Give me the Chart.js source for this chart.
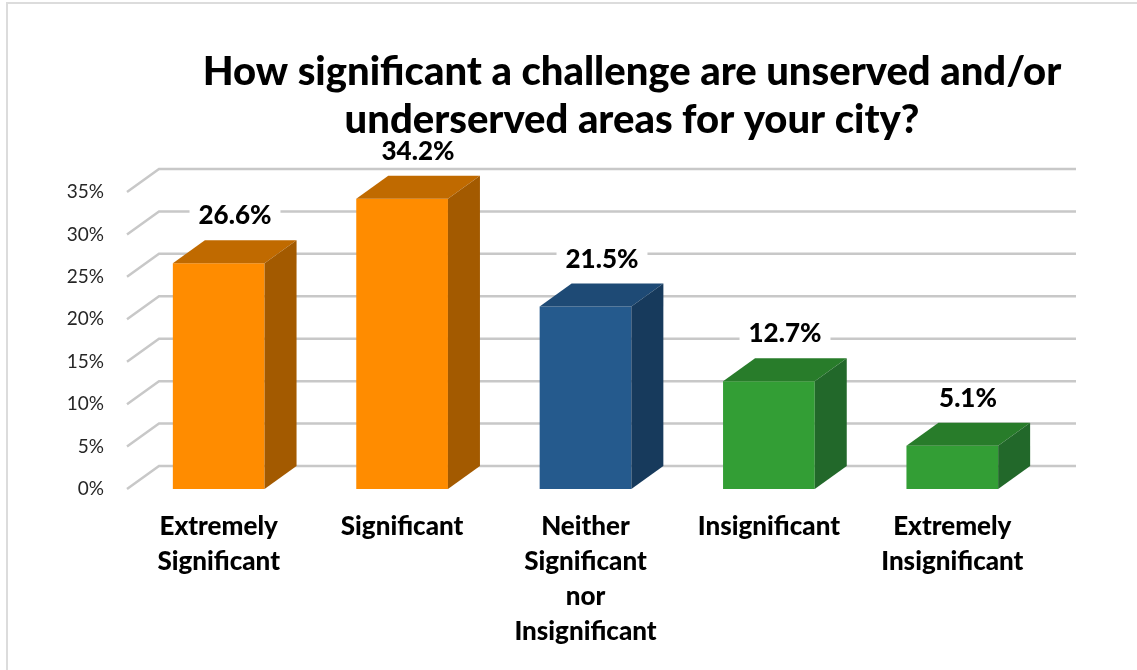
<!DOCTYPE html>
<html>
<head>
<meta charset="utf-8">
<script src="https://cdn.jsdelivr.net/npm/chart.js@4.4.1/dist/chart.umd.min.js"></script>
<style>
  body { margin: 0; background: #fff; }
  #wrap { position: relative; width: 1137px; height: 670px; overflow: hidden; }
  #frame { position: absolute; left: 6px; top: 2px; width: 1200px; height: 700px; border: 2px solid #dcdcdc; box-sizing: border-box; }
  canvas { position: absolute; left: 0; top: 0; }
</style>
</head>
<body>
<div id="wrap">
  <div id="frame"></div>
  <canvas id="chart" width="1137" height="670"></canvas>
</div>
<script>
const titleLines = ['How significant a challenge are unserved and/or', 'underserved areas for your city?'];
const categories = [
    ['Extremely', 'Significant'],
    ['Significant'],
    ['Neither', 'Significant', 'nor', 'Insignificant'],
    ['Insignificant'],
    ['Extremely', 'Insignificant']
];
const values = [26.6, 34.2, 21.5, 12.7, 5.1];
const yTicks = [0, 5, 10, 15, 20, 25, 30, 35];

const frontColors = ['#ff8c00', '#ff8c00', '#255a8d', '#339e35', '#339e35'];
const topColors = ['#c06a00', '#c06a00', '#1e4a75', '#287c2a', '#287c2a'];
const sideColors = ['#a35a00', '#a35a00', '#173a5c', '#22682a', '#22682a'];

// depth of the fake 3d
const DX = 32;
const DY = 23;
const FONT = 'Lato, "Open Sans", sans-serif';

const box3d = {
    id: 'box3d',
    beforeDatasetsDraw(chart) {
        const ctx = chart.ctx;
        const y = chart.scales.y;
        const area = chart.chartArea;
        ctx.save();
        ctx.strokeStyle = '#c8c8c8';
        ctx.lineWidth = 2.5;
        yTicks.forEach(v => {
            const py = y.getPixelForValue(v);
            ctx.beginPath();
            ctx.moveTo(area.left, py);
            ctx.lineTo(area.left + DX, py - DY);
            ctx.lineTo(area.right + DX, py - DY);
            ctx.stroke();
        });
        ctx.restore();
    },
    afterDatasetsDraw(chart) {
        const ctx = chart.ctx;
        const meta = chart.getDatasetMeta(0);
        ctx.save();
        meta.data.forEach((bar, i) => {
            const l = bar.x - bar.width / 2;
            const r = bar.x + bar.width / 2;
            const t = bar.y;
            const b = bar.base;
            // top face
            ctx.fillStyle = topColors[i];
            ctx.beginPath();
            ctx.moveTo(l, t);
            ctx.lineTo(l + DX, t - DY);
            ctx.lineTo(r + DX, t - DY);
            ctx.lineTo(r, t);
            ctx.closePath();
            ctx.fill();
            // side face
            ctx.fillStyle = sideColors[i];
            ctx.beginPath();
            ctx.moveTo(r, t);
            ctx.lineTo(r + DX, t - DY);
            ctx.lineTo(r + DX, b - DY);
            ctx.lineTo(r, b);
            ctx.closePath();
            ctx.fill();
        });
        ctx.restore();
    },
    afterDraw(chart) {
        const ctx = chart.ctx;
        const meta = chart.getDatasetMeta(0);
        ctx.save();
        // value labels with white box
        ctx.font = '900 26px ' + FONT;
        ctx.textAlign = 'center';
        ctx.textBaseline = 'middle';
        meta.data.forEach((bar, i) => {
            const txt = values[i].toFixed(1) + '%';
            const w = ctx.measureText(txt).width;
            const cx = Math.round(bar.x + DX / 2);
            const cy = Math.round(bar.y - DY - 24);
            ctx.fillStyle = '#fff';
            ctx.fillRect(cx - w / 2 - 9, cy - 15, w + 18, 30);
            ctx.fillStyle = '#000';
            ctx.fillText(txt, cx, cy);
        });

        // title
        ctx.font = '900 40px ' + FONT;
        ctx.fillStyle = '#000';
        ctx.fillText(titleLines[0], 632, 72);
        ctx.fillText(titleLines[1], 632, 120);
        ctx.restore();
    }
};

new Chart(document.getElementById('chart'), {
    type: 'bar',
    data: {
        labels: categories,
        datasets: [{
            data: values,
            backgroundColor: frontColors,
            barPercentage: 1,
            categoryPercentage: 0.5
        }]
    },
    options: {
        responsive: false,
        animation: false,
        layout: {
            padding: { left: 20, right: 93, top: 192, bottom: 0 }
        },
        plugins: {
            legend: { display: false },
            tooltip: { enabled: false }
        },
        scales: {
            x: {
                grid: { display: false },
                border: { display: false },
                ticks: {
                    color: '#000',
                    font: { family: FONT, size: 26, weight: '900', lineHeight: 1.35 },
                    padding: 12,
                    maxRotation: 0,
                    autoSkip: false
                },
                afterFit(scale) { scale.height = 181; }
            },
            y: {
                min: 0,
                max: 35,
                grid: { display: false, drawTicks: false },
                border: { display: false },
                ticks: {
                    stepSize: 5,
                    color: '#262626',
                    font: { family: FONT, size: 19 },
                    padding: 23,
                    callback: v => v + '%'
                },
                afterFit(scale) { scale.width = 107; }
            }
        }
    },
    plugins: [box3d]
});
</script>
</body>
</html>
